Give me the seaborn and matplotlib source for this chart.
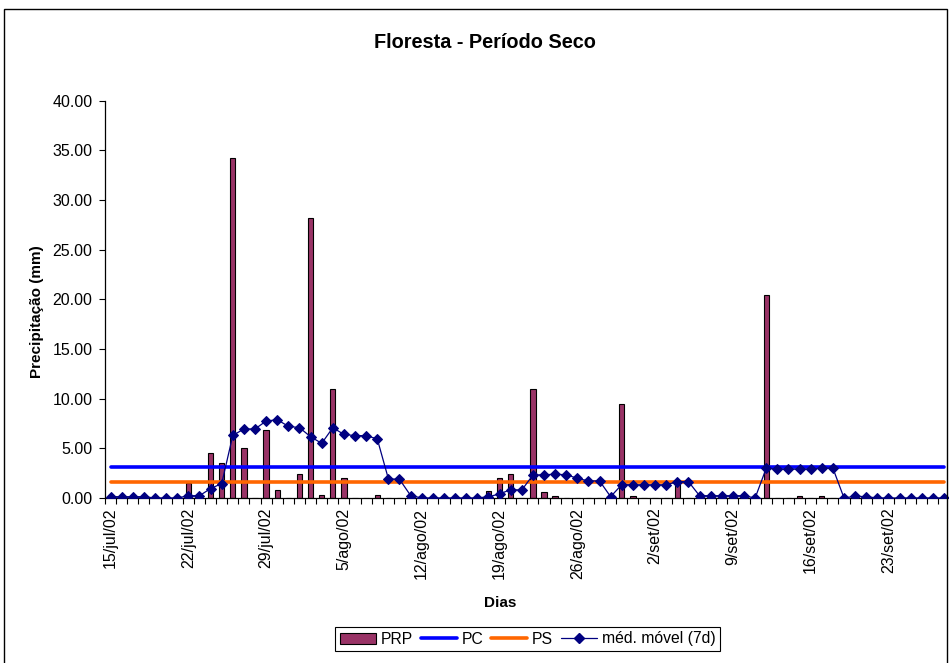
import numpy as np
import pandas as pd
import matplotlib
matplotlib.use("Agg")
import matplotlib.pyplot as plt
from matplotlib.patches import Patch, Rectangle
from matplotlib.lines import Line2D
import seaborn as sns

# ---------------- data ----------------
start_date = "2002-07-15"
n_days = 76
month_abbr = {7: "jul", 8: "ago", 9: "set"}

tick_labels = ["15/jul/02", "22/jul/02", "29/jul/02", "5/ago/02", "12/ago/02",
               "19/ago/02", "26/ago/02", "2/set/02", "9/set/02", "16/set/02",
               "23/set/02"]

# daily rainfall PRP (mm)
prp = [0, 0, 0, 0, 0, 0, 0, 1.5, 0, 4.5,
       3.55, 34.2, 5.0, 0, 6.85, 0.8, 0, 2.4, 28.2, 0.3,
       11.0, 2.0, 0, 0, 0.3, 0, 0, 0, 0, 0,
       0, 0, 0, 0, 0.7, 2.0, 2.4, 0, 11.0, 0.65,
       0.25, 0, 0, 0, 0, 0, 9.45, 0.25, 0, 0,
       0, 1.45, 0, 0, 0, 0, 0, 0, 0, 20.4,
       0, 0, 0.25, 0, 0.25, 0, 0, 0, 0, 0,
       0, 0, 0, 0, 0, 0]

# 7-day moving average
mm7 = [0.13, 0.13, 0.13, 0.13, 0, 0, 0, 0.23, 0.23, 0.95,
       1.45, 6.3, 6.95, 6.95, 7.75, 7.88, 7.22, 7.08, 6.17, 5.5,
       7.08, 6.4, 6.28, 6.28, 5.95, 1.93, 1.88, 0.25, 0, 0,
       0, 0, 0, 0, 0.13, 0.4, 0.85, 0.8, 2.3, 2.35,
       2.38, 2.35, 1.98, 1.72, 1.72, 0.13, 1.35, 1.33, 1.33, 1.33,
       1.33, 1.65, 1.65, 0.23, 0.23, 0.23, 0.23, 0.23, 0, 3.0,
       2.9, 2.9, 2.9, 2.9, 3.0, 3.0, 0, 0.18, 0.13, 0,
       0, 0, 0, 0, 0, 0]

pc_value = 3.15   # PC level
ps_value = 1.58   # PS level

y_ticks = [0, 5, 10, 15, 20, 25, 30, 35, 40]

# ---------------- frame ----------------
dates = pd.date_range(start_date, periods=n_days)
day_names = [f"{d.day}/{month_abbr[d.month]}/02" for d in dates]
df = pd.DataFrame({"dia": day_names, "pos": np.arange(n_days),
                   "PRP": prp, "MM": mm7,
                   "PC": [pc_value] * n_days, "PS": [ps_value] * n_days})

sns.set_style("white")
plt.rcParams["font.family"] = ["Liberation Sans", "DejaVu Sans"]
plt.rcParams["text.color"] = "black"
plt.rcParams["axes.labelcolor"] = "black"
plt.rcParams["xtick.color"] = "black"
plt.rcParams["ytick.color"] = "black"

W, H = 949, 663
fig = plt.figure(figsize=(W / 100, H / 100), dpi=100)
L, R, T, B = 105, 949.6, 100.7, 498
ax = fig.add_axes([L / W, 1 - B / H, (R - L) / W, (B - T) / H])

bar_color = "#993366"
pc_color = "#0000FF"
ps_color = "#FF6600"
mm_color = "#000080"

sns.barplot(data=df, x="dia", y="PRP", color=bar_color, saturation=1,
            width=0.48, edgecolor="black", linewidth=0.8, ax=ax, zorder=2)
sns.lineplot(data=df, x="pos", y="PC", color=pc_color, linewidth=2.6,
             ax=ax, zorder=3)
sns.lineplot(data=df, x="pos", y="PS", color=ps_color, linewidth=2.6,
             ax=ax, zorder=3)
sns.lineplot(data=df, x="pos", y="MM", color=mm_color, linewidth=0.9,
             marker="D", markersize=5, markeredgecolor=mm_color,
             ax=ax, zorder=4)

ax.set_xlim(-0.5, n_days - 0.5)
ax.set_ylim(0, 40)

ax.set_xticks(np.arange(0, n_days, 7))
ax.set_xticklabels(tick_labels, rotation=90)
ax.set_xticks(np.arange(-0.5, n_days, 1), minor=True)
ax.tick_params(axis="x", which="major", length=0, pad=7, labelsize=11.5,
               bottom=True, labelcolor="black")
ax.tick_params(axis="x", which="minor", length=4, width=0.8,
               direction="out", color="black", bottom=True)
ax.set_yticks(y_ticks)
ax.set_yticklabels([f"{v:.2f}" for v in y_ticks])
ax.tick_params(axis="y", length=4, width=0.8, pad=5, labelsize=11.5,
               direction="out", left=True, color="black", labelcolor="black")

for s in ["top", "right"]:
    ax.spines[s].set_visible(False)
for s in ["left", "bottom"]:
    ax.spines[s].set_color("black")
    ax.spines[s].set_linewidth(0.9)

ax.set_xlabel("Dias", fontsize=11, fontweight="bold", color="black")
ax.xaxis.set_label_coords((500 - L) / (R - L), (B - 603) / (B - T))
ax.xaxis.label.set_verticalalignment("center")
ax.set_ylabel("Precipitação (mm)", fontsize=11, fontweight="bold",
              color="black")
ax.yaxis.set_label_coords((37 - L) / (R - L), (B - 312) / (B - T))
ax.yaxis.label.set_verticalalignment("center")

fig.suptitle("Floresta - Período Seco", x=485 / W, y=1 - 42 / H,
             ha="center", va="center", fontsize=14.3, fontweight="bold",
             color="black")

handles = [
    Patch(facecolor=bar_color, edgecolor="black", linewidth=0.8, label="PRP"),
    Line2D([], [], color=pc_color, linewidth=2.6, label="PC"),
    Line2D([], [], color=ps_color, linewidth=2.6, label="PS"),
    Line2D([], [], color=mm_color, linewidth=0.9, marker="D", markersize=5,
           label="méd. móvel (7d)"),
]
leg = fig.legend(handles=handles, loc="center",
                 bbox_to_anchor=(527.5 / W, 1 - 639 / H), ncol=4,
                 frameon=True, fancybox=False, edgecolor="black",
                 framealpha=1, fontsize=11.3, handlelength=2.3,
                 handletextpad=0.3, columnspacing=0.5, borderpad=0.3,
                 borderaxespad=0)
leg.get_frame().set_linewidth(0.8)
for t in leg.get_texts():
    t.set_color("black")

fig.add_artist(Rectangle((4 / W, -0.05), (947 - 4) / W, 1.05 - 9 / H,
                         transform=fig.transFigure, fill=False,
                         edgecolor="black", linewidth=1.0))

fig.savefig("out.png", dpi=100)
